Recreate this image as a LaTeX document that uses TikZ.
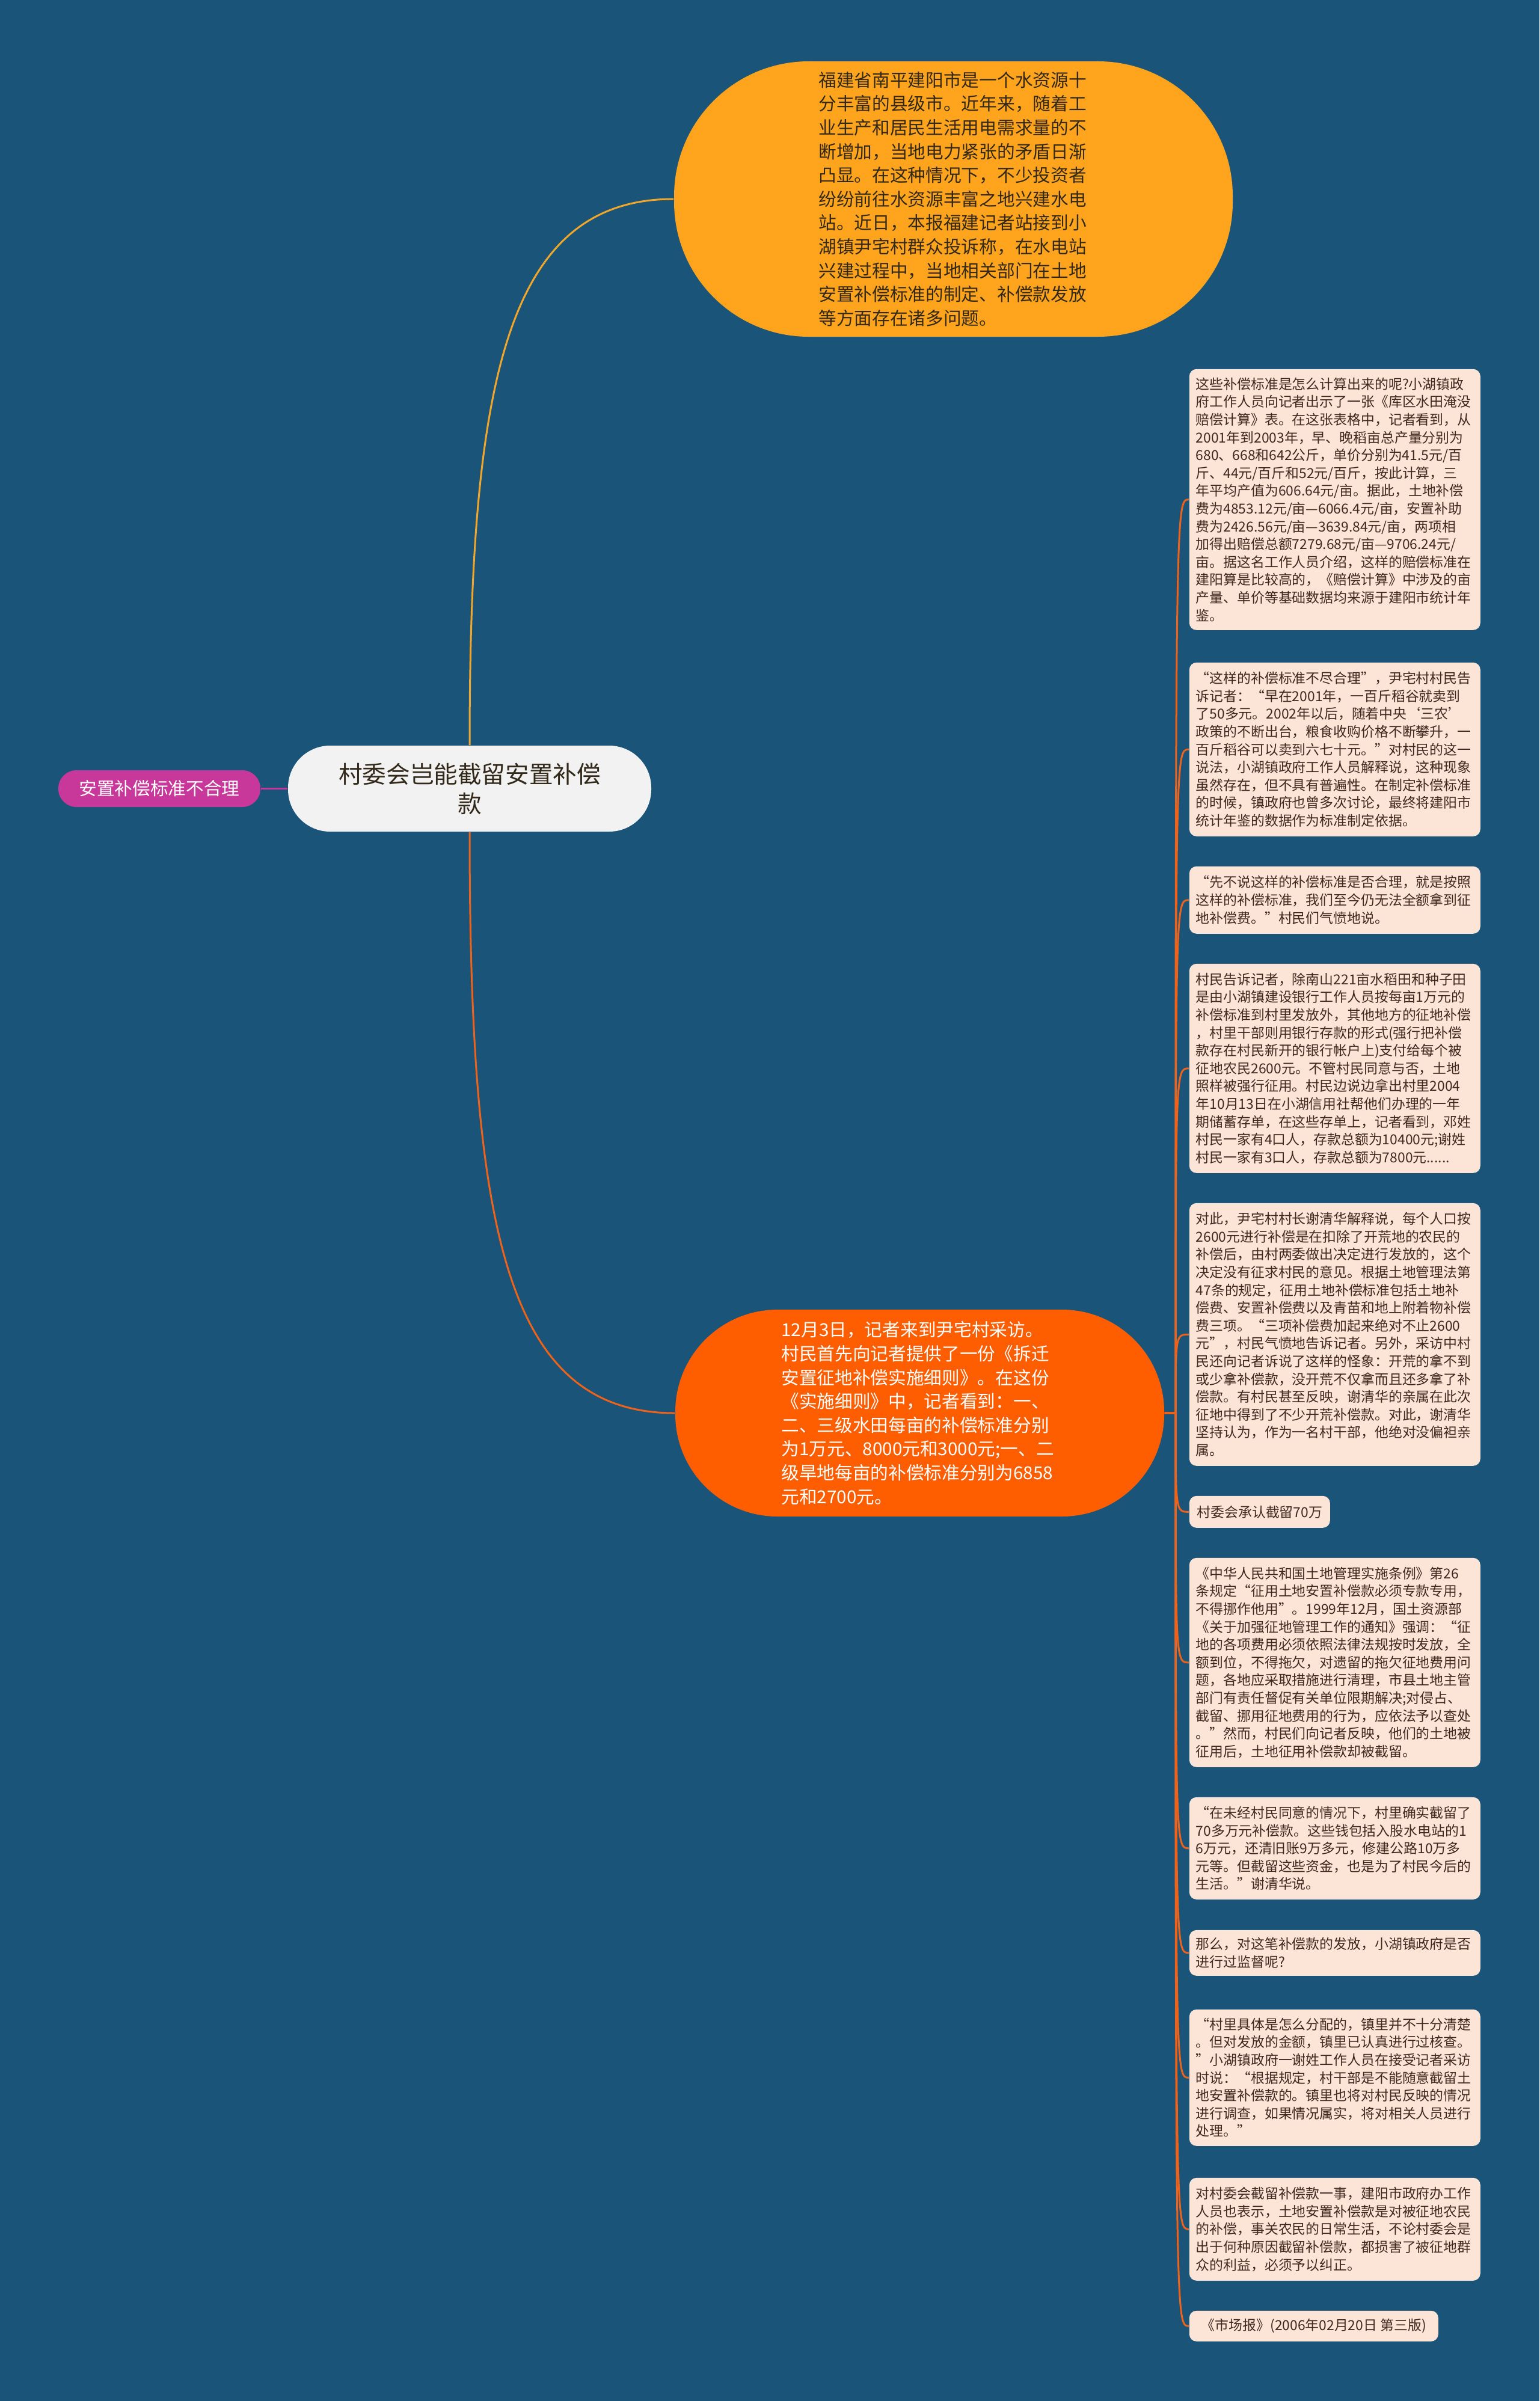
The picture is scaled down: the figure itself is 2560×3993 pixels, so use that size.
\documentclass[tikz,border=0pt]{standalone}
\usepackage{fontspec}
\setmainfont{Noto Sans CJK SC}
\usetikzlibrary{calc}
\definecolor{bgblue}{HTML}{1B5479}
\definecolor{amber}{HTML}{FFA41C}
\definecolor{hotorange}{HTML}{FF5E00}
\definecolor{centerfill}{HTML}{F2F2F2}
\definecolor{magentafill}{HTML}{C8389A}
\definecolor{peach}{HTML}{FCE4D6}
\definecolor{boxtext}{HTML}{40281C}
\definecolor{darktext}{HTML}{33291A}
\definecolor{amberline}{HTML}{F2A72B}
\definecolor{orangeline}{HTML}{EE621A}
\tikzset{
  bignode/.style={rectangle, inner sep=0pt, align=left, font=\fontsize{7.42}{9.9}\selectfont},
  textbox/.style={rectangle, rounded corners=3pt, fill=peach, text=boxtext, anchor=north west,
     inner xsep=2.75pt, inner ysep=0pt, align=left, font=\fontsize{5.72}{7.4}\selectfont},
  widebox/.style={textbox, text width=115.5pt, minimum width=121pt},
  conn/.style={line width=0.75pt},
  rconn/.style={conn, draw=orangeline}
}
\begin{document}
\begin{tikzpicture}[x=0.25pt,y=-0.25pt]
\useasboundingbox (0,0) rectangle (2560,3993);
\fill[bgblue] (0,0) rectangle (2560,3993);

% main nodes
\node[bignode, fill=amber, text=darktext, rounded corners=56pt, minimum width=232.25pt, minimum height=114.5pt, text width=112pt]
  (top) at (1585.5,331) {福建省南平建阳市是一个水资源十\\分丰富的县级市。近年来，随着工\\业生产和居民生活用电需求量的不\\断增加，当地电力紧张的矛盾日渐\\凸显。在这种情况下，不少投资者\\纷纷前往水资源丰富之地兴建水电\\站。近日，本报福建记者站接到小\\湖镇尹宅村群众投诉称，在水电站\\兴建过程中，当地相关部门在土地\\安置补偿标准的制定、补偿款发放\\等方面存在诸多问题。};

\node[rectangle, fill=centerfill, text=darktext, rounded corners=17.5pt, minimum width=151pt, minimum height=35.75pt, inner sep=0pt, align=center, text width=112pt, font=\fontsize{9.9}{12.3}\selectfont]
  (center) at (781,1311.5) {村委会岂能截留安置补偿\\款};

\node[rectangle, fill=magentafill, text=white, rounded corners=7.5pt, minimum width=84pt, minimum height=15.25pt, inner sep=0pt, font=\fontsize{7.42}{9}\selectfont]
  (left) at (265,1311.5) {安置补偿标准不合理};

\node[bignode, fill=hotorange, text=white, rounded corners=42.5pt, minimum width=203.25pt, minimum height=86pt, text width=115pt]
  (low) at (1529.5,2350) {12月3日，记者来到尹宅村采访。\\村民首先向记者提供了一份《拆迁\\安置征地补偿实施细则》。在这份\\《实施细则》中，记者看到：一、\\二、三级水田每亩的补偿标准分别\\为1万元、8000元和3000元;一、二\\级旱地每亩的补偿标准分别为6858\\元和2700元。};

% right boxes
\node[widebox, minimum height=108.5pt] (b1) at (1977,613) {这些补偿标准是怎么计算出来的呢?小湖镇政\\府工作人员向记者出示了一张《库区水田淹没\\赔偿计算》表。在这张表格中，记者看到，从\\2001年到2003年，早、晚稻亩总产量分别为\\680、668和642公斤，单价分别为41.5元/百\\斤、44元/百斤和52元/百斤，按此计算，三\\年平均产值为606.64元/亩。据此，土地补偿\\费为4853.12元/亩—6066.4元/亩，安置补助\\费为2426.56元/亩—3639.84元/亩，两项相\\加得出赔偿总额7279.68元/亩—9706.24元/\\亩。据这名工作人员介绍，这样的赔偿标准在\\建阳算是比较高的，《赔偿计算》中涉及的亩\\产量、单价等基础数据均来源于建阳市统计年\\鉴。};

\node[widebox, minimum height=72.25pt] (b2) at (1977,1101) {“这样的补偿标准不尽合理”，尹宅村村民告\\诉记者：“早在2001年，一百斤稻谷就卖到\\了50多元。2002年以后，随着中央‘三农’\\政策的不断出台，粮食收购价格不断攀升，一\\百斤稻谷可以卖到六七十元。”对村民的这一\\说法，小湖镇政府工作人员解释说，这种现象\\虽然存在，但不具有普遍性。在制定补偿标准\\的时候，镇政府也曾多次讨论，最终将建阳市\\统计年鉴的数据作为标准制定依据。};

\node[widebox, minimum height=28pt] (b3) at (1977,1440) {“先不说这样的补偿标准是否合理，就是按照\\这样的补偿标准，我们至今仍无法全额拿到征\\地补偿费。”村民们气愤地说。};

\node[widebox, minimum height=87pt] (b4) at (1977,1602) {村民告诉记者，除南山221亩水稻田和种子田\\是由小湖镇建设银行工作人员按每亩1万元的\\补偿标准到村里发放外，其他地方的征地补偿\\，村里干部则用银行存款的形式(强行把补偿\\款存在村民新开的银行帐户上)支付给每个被\\征地农民2600元。不管村民同意与否，土地\\照样被强行征用。村民边说边拿出村里2004\\年10月13日在小湖信用社帮他们办理的一年\\期储蓄存单，在这些存单上，记者看到，邓姓\\村民一家有4口人，存款总额为10400元;谢姓\\村民一家有3口人，存款总额为7800元......};

\node[widebox, minimum height=109.25pt] (b5) at (1977,2000) {对此，尹宅村村长谢清华解释说，每个人口按\\2600元进行补偿是在扣除了开荒地的农民的\\补偿后，由村两委做出决定进行发放的，这个\\决定没有征求村民的意见。根据土地管理法第\\47条的规定，征用土地补偿标准包括土地补\\偿费、安置补偿费以及青苗和地上附着物补偿\\费三项。“三项补偿费加起来绝对不止2600\\元”，村民气愤地告诉记者。另外，采访中村\\民还向记者诉说了这样的怪象：开荒的拿不到\\或少拿补偿款，没开荒不仅拿而且还多拿了补\\偿款。有村民甚至反映，谢清华的亲属在此次\\征地中得到了不少开荒补偿款。对此，谢清华\\坚持认为，作为一名村干部，他绝对没偏袒亲\\属。};

\node[textbox, minimum width=58.5pt, minimum height=13.25pt] (b6) at (1977,2487) {村委会承认截留70万};

\node[widebox, minimum height=87pt] (b7) at (1977,2590) {《中华人民共和国土地管理实施条例》第26\\条规定“征用土地安置补偿款必须专款专用，\\不得挪作他用”。1999年12月，国土资源部\\《关于加强征地管理工作的通知》强调：“征\\地的各项费用必须依照法律法规按时发放，全\\额到位，不得拖欠，对遗留的拖欠征地费用问\\题，各地应采取措施进行清理，市县土地主管\\部门有责任督促有关单位限期解决;对侵占、\\截留、挪用征地费用的行为，应依法予以查处\\。”然而，村民们向记者反映，他们的土地被\\征用后，土地征用补偿款却被截留。};

\node[widebox, minimum height=42.5pt] (b8) at (1977,2988) {“在未经村民同意的情况下，村里确实截留了\\70多万元补偿款。这些钱包括入股水电站的1\\6万元，还清旧账9万多元，修建公路10万多\\元等。但截留这些资金，也是为了村民今后的\\生活。”谢清华说。};

\node[widebox, minimum height=19pt] (b9) at (1977,3209) {那么，对这笔补偿款的发放，小湖镇政府是否\\进行过监督呢?};

\node[widebox, minimum height=56.75pt] (b10) at (1977,3341) {“村里具体是怎么分配的，镇里并不十分清楚\\。但对发放的金额，镇里已认真进行过核查。\\”小湖镇政府一谢姓工作人员在接受记者采访\\时说：“根据规定，村干部是不能随意截留土\\地安置补偿款的。镇里也将对村民反映的情况\\进行调查，如果情况属实，将对相关人员进行\\处理。”};

\node[widebox, minimum height=42.75pt] (b11) at (1977,3621) {对村委会截留补偿款一事，建阳市政府办工作\\人员也表示，土地安置补偿款是对被征地农民\\的补偿，事关农民的日常生活，不论村委会是\\出于何种原因截留补偿款，都损害了被征地群\\众的利益，必须予以纠正。};

\node[textbox, minimum width=103.5pt, minimum height=12.75pt] (b12) at (1977,3842) {《市场报》(2006年02月20日 第三版)};

% connectors
\draw[conn, draw=magentafill, line width=0.9pt] (left.east) -- (center.west);
\draw[conn, draw=amberline] (center.north) .. controls (781,640) and (840,331) .. (top.west);
\draw[conn, draw=orangeline] (center.south) .. controls (781,2040) and (840,2350) .. (low.west);

\coordinate (hub) at (1955,2350);
\foreach \b in {b1,b2,b3,b4,b5,b6,b7,b8,b9,b10,b11,b12}{
  \draw[rconn] (low.east) -- (hub) .. controls (hub |- \b.west) .. (\b.west);
}
\end{tikzpicture}
\end{document}
